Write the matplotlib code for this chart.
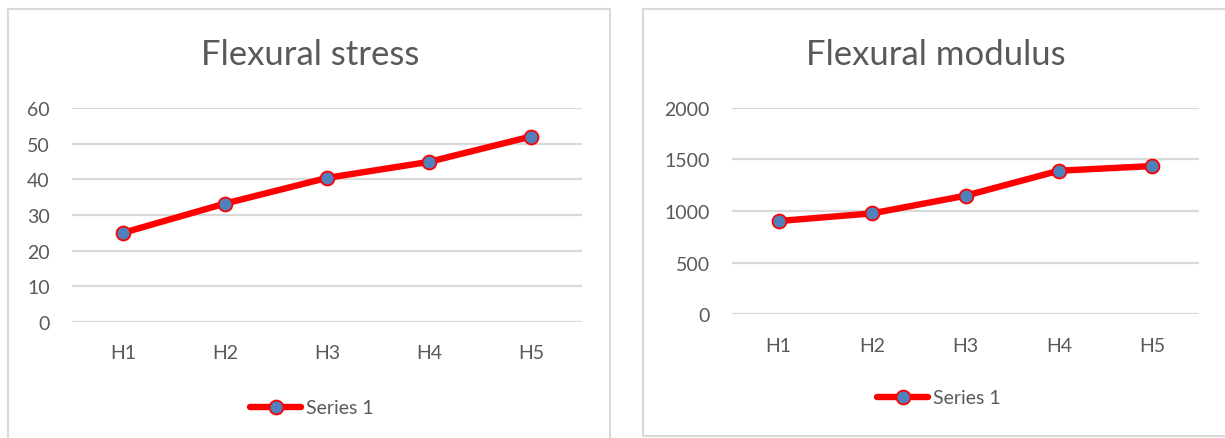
import matplotlib
matplotlib.use('Agg')
from matplotlib import pyplot as plt
from matplotlib.patches import Rectangle

categories = ['H1', 'H2', 'H3', 'H4', 'H5']
stress_values = [25.0, 33.2, 40.4, 44.9, 52.0]
modulus_values = [903, 977, 1148, 1390, 1435]
stress_ticks = [0, 10, 20, 30, 40, 50, 60]
modulus_ticks = [0, 500, 1000, 1500, 2000]

W, H = 1225, 439
TEXT = '#595959'
GRID = '#d9d9d9'
plt.rcParams['font.family'] = ['Lato', 'DejaVu Sans']

fig = plt.figure(figsize=(W / 100, H / 100), dpi=100)
fig.patch.set_facecolor('white')


def px_axes(x0, x1, y_top, y_bot):
    return fig.add_axes([x0 / W, 1 - y_bot / H, (x1 - x0) / W, (y_bot - y_top) / H])


def draw_chart(ax, values, ticks, title, title_x, legend_x, legend_y):
    x = range(len(categories))
    ax.plot(x, values, color='#ff0000', lw=4.6, marker='o', ms=10,
            mfc='#4f81bd', mec='#ff0000', mew=1.3, label='Series 1',
            solid_capstyle='round', zorder=3)
    ax.set_xlim(-0.5, len(categories) - 0.5)
    ax.set_ylim(ticks[0], ticks[-1])
    ax.set_yticks(ticks)
    ax.set_xticks(list(x))
    ax.set_xticklabels(categories)
    for s in ax.spines.values():
        s.set_visible(False)
    ax.grid(axis='y', color=GRID, lw=1.6)
    ax.set_axisbelow(True)
    ax.tick_params(axis='both', length=0, labelsize=14, labelcolor=TEXT)
    ax.tick_params(axis='y', pad=16)
    ax.tick_params(axis='x', pad=16)
    fig.text(title_x / W, 1 - 55 / H, title, ha='center', va='center',
             fontsize=25, color=TEXT)
    ax.legend(loc='center', bbox_to_anchor=(legend_x / W, 1 - legend_y / H),
              bbox_transform=fig.transFigure, frameon=False, fontsize=14,
              labelcolor=TEXT, handlelength=2.6, handletextpad=0.25)


# panel frames
fig.add_artist(Rectangle((7.5 / W, -0.05), 602 / W, 1.05 - 10 / H,
                         transform=fig.transFigure, fill=False, ec=GRID, lw=1.5))
fig.add_artist(Rectangle((643 / W, 1 - 437 / H), 600 / W, 427 / H,
                         transform=fig.transFigure, fill=False, ec=GRID, lw=1.5))

ax1 = px_axes(72, 582, 109, 323)
draw_chart(ax1, stress_values, stress_ticks, 'Flexural stress', 310, 312, 409)

ax2 = px_axes(732, 1199, 108.7, 315.3)
draw_chart(ax2, modulus_values, modulus_ticks, 'Flexural modulus', 936, 939, 399)

fig.savefig('out.png', dpi=100)
